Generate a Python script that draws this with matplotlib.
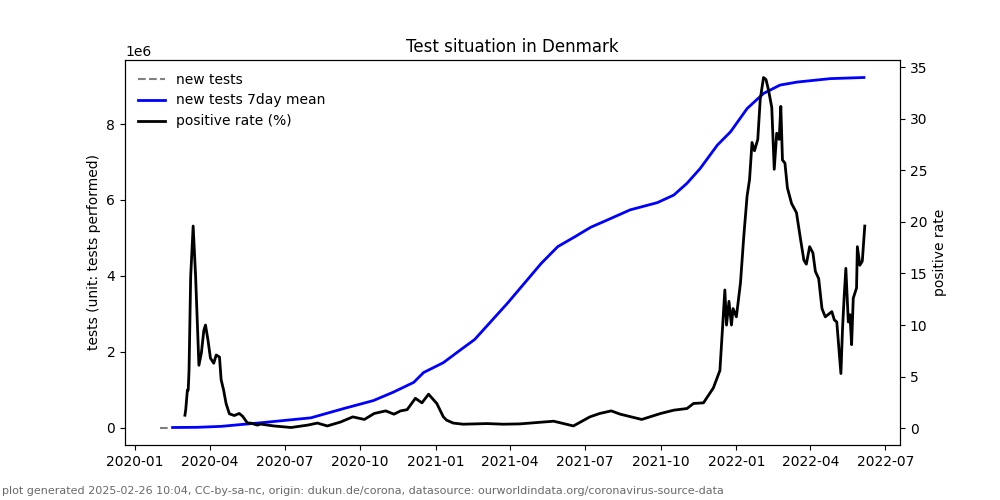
import matplotlib
matplotlib.use("Agg")
import matplotlib.pyplot as plt
import pandas as pd

# raw new tests (only a short stretch visible at the start)
tests_dates = ["2020-02-01", "2020-02-12"]
tests_values = [0.0, 0.0]

# new tests 7day mean, in millions
mean_dates = [
    "2020-02-16", "2020-03-17", "2020-04-15", "2020-05-10", "2020-06-02",
    "2020-08-02", "2020-09-11", "2020-10-17", "2020-11-10", "2020-12-05",
    "2020-12-17", "2021-01-10", "2021-01-31", "2021-02-17", "2021-03-29",
    "2021-05-09", "2021-05-29", "2021-06-18", "2021-07-08", "2021-07-28",
    "2021-08-25", "2021-09-27", "2021-10-17", "2021-11-02", "2021-11-18",
    "2021-12-09", "2021-12-25", "2022-01-14", "2022-02-03", "2022-02-23",
    "2022-03-16", "2022-04-25", "2022-06-05",
]
mean_values = [
    0.0, 0.005, 0.03, 0.08, 0.124,
    0.255, 0.5, 0.71, 0.93, 1.19,
    1.45, 1.71, 2.05, 2.32, 3.28,
    4.33, 4.77, 5.02, 5.28, 5.47,
    5.74, 5.93, 6.13, 6.44, 6.83,
    7.45, 7.80, 8.41, 8.81, 9.03,
    9.11, 9.20, 9.23,
]

# positive rate in percent
rate_dates = [
    "2020-03-02", "2020-03-03", "2020-03-05", "2020-03-06", "2020-03-07",
    "2020-03-09", "2020-03-12", "2020-03-15", "2020-03-19", "2020-03-22",
    "2020-03-25", "2020-03-27", "2020-03-30", "2020-04-02", "2020-04-06",
    "2020-04-09", "2020-04-13", "2020-04-15", "2020-04-18", "2020-04-21",
    "2020-04-25", "2020-05-01", "2020-05-07", "2020-05-11", "2020-05-17",
    "2020-05-21", "2020-05-29", "2020-06-02", "2020-06-18", "2020-07-09",
    "2020-07-29", "2020-08-10", "2020-08-22", "2020-09-07", "2020-09-22",
    "2020-10-06", "2020-10-18", "2020-11-01", "2020-11-11", "2020-11-19",
    "2020-11-27", "2020-12-07", "2020-12-15", "2020-12-23", "2021-01-02",
    "2021-01-10", "2021-01-14", "2021-01-22", "2021-02-03", "2021-03-04",
    "2021-03-24", "2021-04-13", "2021-05-24", "2021-06-17", "2021-07-07",
    "2021-07-19", "2021-08-02", "2021-08-13", "2021-09-08", "2021-10-01",
    "2021-10-17", "2021-11-02", "2021-11-10", "2021-11-22", "2021-12-04",
    "2021-12-12", "2021-12-14", "2021-12-18", "2021-12-20", "2021-12-23",
    "2021-12-26", "2021-12-28", "2022-01-01", "2022-01-06", "2022-01-10",
    "2022-01-14", "2022-01-17", "2022-01-20", "2022-01-23", "2022-01-27",
    "2022-01-30", "2022-02-03", "2022-02-06", "2022-02-09", "2022-02-13",
    "2022-02-16", "2022-02-19", "2022-02-22", "2022-02-24", "2022-02-26",
    "2022-03-01", "2022-03-04", "2022-03-09", "2022-03-15", "2022-03-20",
    "2022-03-24", "2022-03-27", "2022-03-31", "2022-04-04", "2022-04-07",
    "2022-04-11", "2022-04-15", "2022-04-19", "2022-04-27", "2022-04-30",
    "2022-05-03", "2022-05-08", "2022-05-10", "2022-05-12", "2022-05-14",
    "2022-05-17", "2022-05-19", "2022-05-21", "2022-05-23", "2022-05-27",
    "2022-05-28", "2022-05-31", "2022-06-03", "2022-06-06",
]
rate_values = [
    1.26, 1.8, 3.7, 3.7, 5.6,
    14.7, 19.6, 14.7, 6.1, 7.3,
    9.5, 10.0, 8.55, 6.8, 6.3,
    7.1, 6.9, 4.7, 3.7, 2.4,
    1.4, 1.23, 1.43, 1.17, 0.5,
    0.5, 0.3, 0.4, 0.22, 0.07,
    0.3, 0.5, 0.22, 0.6, 1.1,
    0.85, 1.43, 1.68, 1.36, 1.68,
    1.8, 2.9, 2.46, 3.3, 2.4,
    1.1, 0.78, 0.5, 0.39, 0.45,
    0.39, 0.42, 0.68, 0.22, 1.1,
    1.43, 1.68, 1.36, 0.85, 1.43,
    1.75, 1.91, 2.4, 2.46, 3.9,
    5.6, 8.2, 13.4, 10.0, 12.3,
    10.0, 11.6, 10.8, 14.1, 18.6,
    22.5, 24.1, 27.7, 26.9, 28.0,
    31.9, 34.0, 33.8, 32.8, 31.1,
    25.1, 28.6, 28.0, 31.2, 26.0,
    25.7, 23.3, 21.8, 20.9, 18.3,
    16.3, 15.9, 17.6, 17.0, 15.2,
    14.5, 11.6, 10.8, 11.3, 10.5,
    10.3, 5.3, 9.7, 12.8, 15.5,
    10.3, 11.0, 8.1, 12.6, 13.6,
    17.6, 15.8, 16.2, 19.6,
]

fig, ax = plt.subplots(figsize=(10, 5), dpi=100)
ax2 = ax.twinx()

l1, = ax.plot(pd.to_datetime(tests_dates), [v * 1e6 for v in tests_values],
              color="grey", linestyle="--", linewidth=1.5, label="new tests")
l2, = ax.plot(pd.to_datetime(mean_dates), [v * 1e6 for v in mean_values],
              color="blue", linewidth=2, label="new tests 7day mean")
l3, = ax2.plot(pd.to_datetime(rate_dates), rate_values,
               color="black", linewidth=2, label="positive rate (%)")

ax.set_ylabel("tests (unit: tests performed)")
ax2.set_ylabel("positive rate")
ax.set_title("Test situation in Denmark")
ax.legend(handles=[l1, l2, l3], loc="upper left", frameon=False)

fig.text(0.002, 0.012,
         "plot generated 2025-02-26 10:04, CC-by-sa-nc, origin: dukun.de/corona, "
         "datasource: ourworldindata.org/coronavirus-source-data",
         fontsize=8, color="dimgray")

plt.savefig("out.png")
